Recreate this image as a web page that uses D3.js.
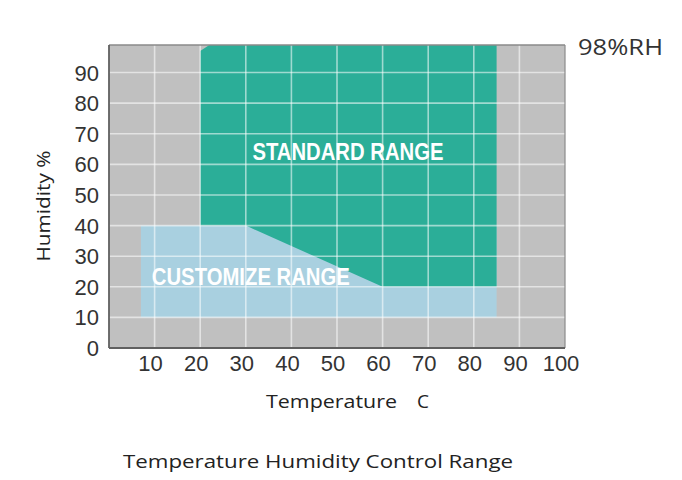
<!DOCTYPE html>
<html><head><meta charset="utf-8">
<script src="https://cdn.jsdelivr.net/npm/d3@7"></script>
<style>body{margin:0;background:#fff}svg{display:block}</style>
</head><body>
<svg id="c" width="682" height="480"></svg>
<script>
const xTicks = [10,20,30,40,50,60,70,80,90,100];
const yTicks = [0,10,20,30,40,50,60,70,80,90];
const xGrid = [10,20,30,40,50,60,70,80,90];
const yGrid = [10,20,30,40,50,60,70,80,90];
// Standard range polygon (temperature C, humidity %)
const standardTemp = [20,20,22,85,85,60,30];
const standardHum  = [40,97,99,99,20,20,40];
// Customize range polygon
const customTemp = [7,7,85,85];
const customHum  = [10,40,40,10];
const labels = ["STANDARD RANGE","CUSTOMIZE RANGE"];

const svg = d3.select("#c");
const L=109,R=565,T=45,B=348;
const x = d3.scaleLinear().domain([0,100]).range([L,R]);
const y = d3.scaleLinear().domain([0,99]).range([B,T]);
const labelAnchor = [[52.4,61.4],[31.1,20.6]];
const labelWidth = [191,198];

svg.append("rect").attr("x",L).attr("y",T).attr("width",R-L).attr("height",B-T).attr("fill","#c0c0c0");

const line = d3.line().x(d=>x(d[0])).y(d=>y(d[1]));
svg.append("path").attr("d",line(customTemp.map((t,i)=>[t,customHum[i]]))+"Z").attr("fill","#a9d0e0");
svg.append("path").attr("d",line(standardTemp.map((t,i)=>[t,standardHum[i]]))+"Z").attr("fill","#2bae98");

const g = svg.append("g");
g.selectAll(".vx").data(xGrid).join("line").attr("x1",d=>x(d)).attr("x2",d=>x(d)).attr("y1",T).attr("y2",B)
 .attr("stroke","#fff").attr("stroke-opacity",0.55).attr("stroke-width",1.6);
g.selectAll(".hy").data(yGrid).join("line").attr("y1",d=>y(d)).attr("y2",d=>y(d)).attr("x1",L).attr("x2",R)
 .attr("stroke","#fff").attr("stroke-opacity",0.55).attr("stroke-width",1.6);

// borders
svg.append("line").attr("x1",L).attr("x2",R).attr("y1",T).attr("y2",T).attr("stroke","#8a8a8a").attr("stroke-width",1.5);
svg.append("line").attr("x1",R).attr("x2",R).attr("y1",T).attr("y2",B).attr("stroke","#8a8a8a").attr("stroke-width",1.2);
svg.append("line").attr("x1",L).attr("x2",L).attr("y1",T).attr("y2",B).attr("stroke","#606060").attr("stroke-width",1.8);
svg.append("line").attr("x1",L).attr("x2",R).attr("y1",B).attr("y2",B).attr("stroke","#606060").attr("stroke-width",1.8);

// region labels
svg.selectAll(".rl").data(labels).join("text")
 .attr("x",(d,i)=>x(labelAnchor[i][0])).attr("y",(d,i)=>y(labelAnchor[i][1]))
 .attr("text-anchor","middle").attr("font-family","'Liberation Sans',Arial,sans-serif")
 .attr("font-size",23).attr("font-weight","bold").attr("fill","#fff")
 .attr("textLength",(d,i)=>labelWidth[i]).attr("lengthAdjust","spacingAndGlyphs").text(d=>d);

// ticks
svg.selectAll(".xt").data(xTicks).join("text").attr("x",d=>x(d)-4).attr("y",371)
 .attr("text-anchor","middle").attr("font-family","'Liberation Sans',Arial,sans-serif").attr("font-size",22).attr("fill","#333").text(d=>d);
svg.selectAll(".yt").data(yTicks).join("text").attr("x",99).attr("y",d=>y(d)+8)
 .attr("text-anchor","end").attr("font-family","'Liberation Sans',Arial,sans-serif").attr("font-size",22).attr("fill","#333").text(d=>d);

const tf="'Open Sans','Noto Sans',sans-serif";
svg.append("text").attr("transform","translate(50,206) rotate(-90)").attr("text-anchor","middle")
 .attr("font-family",tf).attr("font-size",18).attr("fill","#222")
 .attr("textLength",111).attr("lengthAdjust","spacingAndGlyphs").text("Humidity %");
svg.append("text").attr("x",266).attr("y",408).attr("font-family",tf).attr("font-size",19).attr("fill","#222")
 .attr("textLength",131).attr("lengthAdjust","spacingAndGlyphs").text("Temperature");
svg.append("text").attr("x",417).attr("y",408).attr("font-family",tf).attr("font-size",19).attr("fill","#222").text("C");
svg.append("text").attr("x",123).attr("y",468).attr("font-family",tf).attr("font-size",19).attr("fill","#222")
 .attr("textLength",390).attr("lengthAdjust","spacingAndGlyphs").text("Temperature Humidity Control Range");
svg.append("text").attr("x",578).attr("y",55).attr("font-family",tf).attr("font-size",21).attr("fill","#333")
 .attr("textLength",85).attr("lengthAdjust","spacingAndGlyphs").text("98%RH");
</script>
</body></html>
